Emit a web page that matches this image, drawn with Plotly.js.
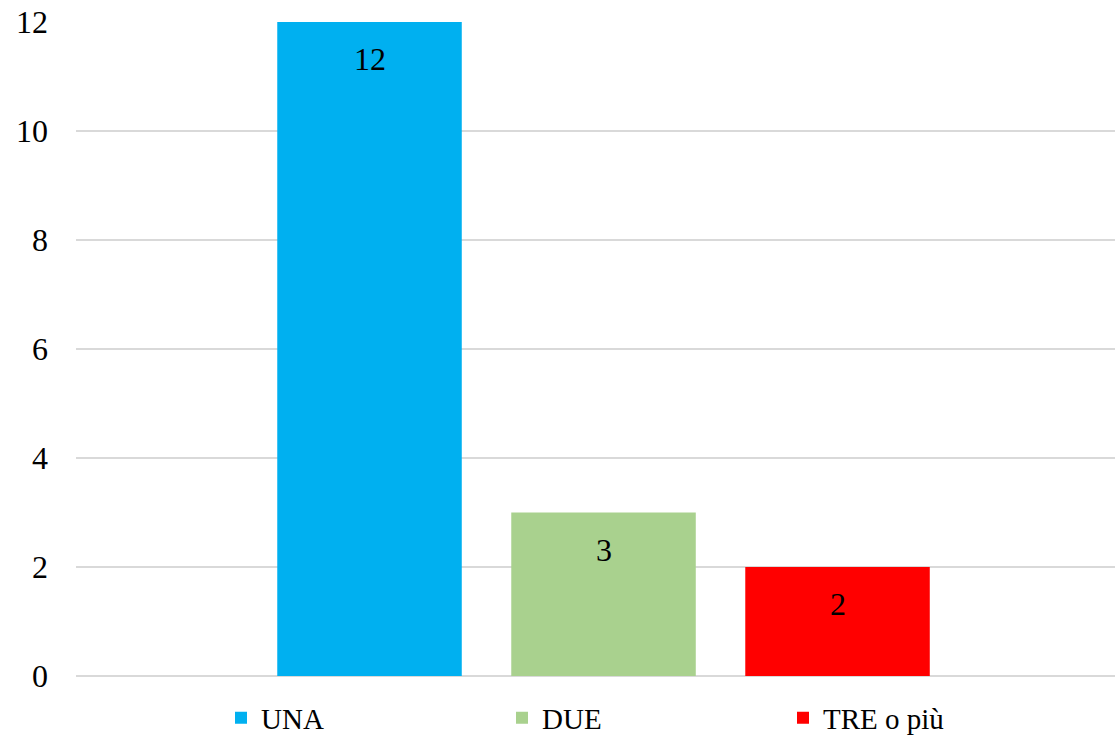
<!DOCTYPE html>
<html>
<head>
<meta charset="utf-8">
<script src="https://cdn.plot.ly/plotly-3.0.1.min.js"></script>
<style>html,body{margin:0;padding:0;background:#fff;}#chart{width:1115px;height:735px;}</style>
</head>
<body>
<div id="chart"></div>
<script>
const category = [""];
const seriesNames = ["UNA", "DUE", "TRE o più"];
const seriesValues = [12, 3, 2];
const seriesColors = ["#00B0F0", "#A9D18E", "#FF0000"];
const yTickValues = [0, 2, 4, 6, 8, 10, 12];

const FONT = "Liberation Serif";
const BARGAP = 0.3346;
const BARGROUPGAP = 0.2115;

const traces = seriesNames.map((name, i) => ({
  type: "bar",
  name: name,
  x: category,
  y: [seriesValues[i]],
  marker: {color: seriesColors[i], line: {width: 0}},
  hoverinfo: "skip"
}));

const slot = (1 - BARGAP) / seriesNames.length;
const annotations = seriesValues.map((v, i) => ({
  xref: "x", yref: "y",
  x: (i - (seriesNames.length - 1) / 2) * slot,
  y: v,
  text: String(v),
  showarrow: false,
  yanchor: "middle",
  yshift: -37,
  font: {family: FONT, size: 32, color: "#000"}
}));

const layout = {
  width: 1115, height: 735,
  margin: {l: 76, r: 0, t: 22, b: 59, pad: 0},
  paper_bgcolor: "#fff", plot_bgcolor: "#fff",
  barmode: "group",
  bargap: BARGAP,
  bargroupgap: BARGROUPGAP,
  showlegend: true,
  font: {family: FONT, color: "#000"},
  xaxis: {
    type: "category",
    range: [-0.5, 0.4848],
    showticklabels: false,
    showgrid: false,
    zeroline: false,
    showline: false,
    fixedrange: true
  },
  yaxis: {
    range: [0, 12],
    tickvals: yTickValues,
    ticktext: yTickValues.map(String),
    showgrid: true,
    gridcolor: "#d9d9d9",
    gridwidth: 1.3,
    zeroline: true,
    zerolinecolor: "#d9d9d9",
    zerolinewidth: 1.3,
    showline: false,
    ticks: "",
    ticklabelstandoff: 27,
    tickfont: {family: FONT, size: 32, color: "#000"},
    fixedrange: true
  },
  legend: {
    orientation: "h",
    xref: "container", yref: "container",
    x: 221 / 1115, xanchor: "left",
    y: 17 / 735, yanchor: "middle",
    entrywidth: 236, entrywidthmode: "pixels",
    font: {family: FONT, size: 29, color: "#000"},
    bgcolor: "rgba(0,0,0,0)",
    traceorder: "normal"
  },
  annotations: annotations
};

Plotly.newPlot("chart", traces, layout, {displayModeBar: false, staticPlot: true});
</script>
</body>
</html>
